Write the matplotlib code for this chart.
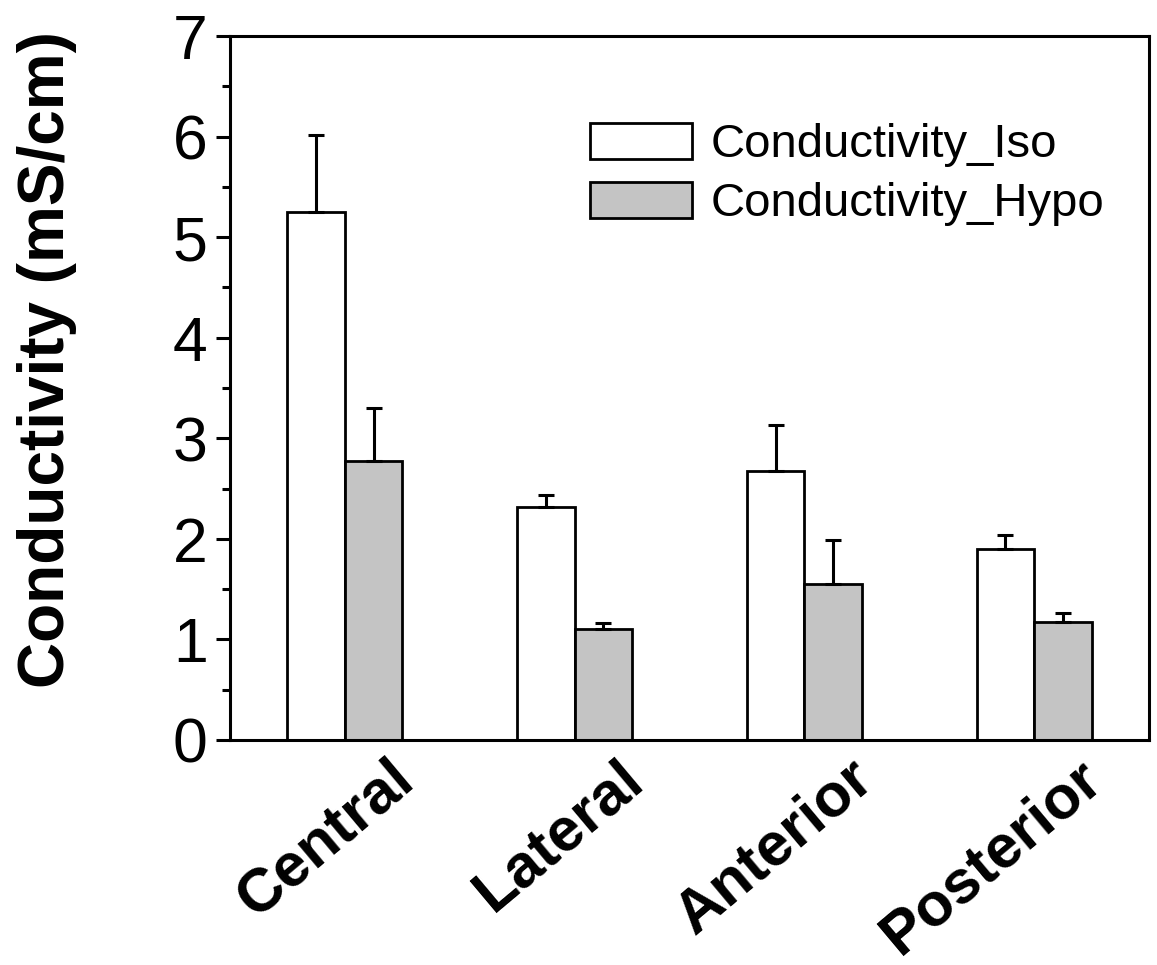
import matplotlib
matplotlib.use('Agg')
import matplotlib.pyplot as plt
import matplotlib.transforms as mtransforms
import numpy as np

#Data
categories = ['Central', 'Lateral', 'Anterior', 'Posterior']
iso = [5.25, 2.32, 2.67, 1.90]
iso_err = [0.77, 0.12, 0.46, 0.14]
hypo = [2.77, 1.10, 1.55, 1.17]
hypo_err = [0.53, 0.06, 0.44, 0.09]
yticks = [0, 1, 2, 3, 4, 5, 6, 7]

plt.rcParams['font.family'] = ['Liberation Sans', 'DejaVu Sans']

fig = plt.figure(figsize=(11.57, 9.65), dpi=100)
ax = fig.add_axes([0.1988, 0.2332, 0.7943, 0.7295])

x = np.arange(1, len(categories) + 1)
w = 0.25

#Bars with upper error bars only
ax.bar(x - w/2, iso, w, color='white', edgecolor='black', linewidth=2,
       label='Conductivity_Iso', zorder=2)
ax.bar(x + w/2, hypo, w, color='#c4c4c4', edgecolor='black', linewidth=2,
       label='Conductivity_Hypo', zorder=2)
ax.errorbar(x - w/2, iso, yerr=[np.zeros(len(iso)), iso_err], fmt='none',
            ecolor='black', elinewidth=2.2, capsize=5.8, capthick=2.2, zorder=3)
ax.errorbar(x + w/2, hypo, yerr=[np.zeros(len(hypo)), hypo_err], fmt='none',
            ecolor='black', elinewidth=2.2, capsize=5.8, capthick=2.2, zorder=3)

#Axes limits and ticks
ax.set_xlim(0.5, 4.5)
ax.set_ylim(0, 7)
ax.set_yticks(yticks)
ax.set_yticks(np.arange(0.5, 7, 1), minor=True)
ax.tick_params(axis='y', which='major', direction='out', length=10, width=2.2,
               labelsize=45, pad=6)
ax.tick_params(axis='y', which='minor', direction='out', length=5.8, width=2.2)
ax.set_xticks(x)
ax.set_xticklabels(categories, fontsize=44, fontweight='bold')
ax.tick_params(axis='x', length=0, pad=7)
plt.setp(ax.get_xticklabels(), rotation=40, ha='right', va='top', rotation_mode='anchor')
offset = mtransforms.ScaledTranslation(0.43, 0, fig.dpi_scale_trans)
for lab in ax.get_xticklabels():
    lab.set_transform(lab.get_transform() + offset)

for s in ax.spines.values():
    s.set_linewidth(2.2)

#Y axis label
ax.set_ylabel('Conductivity (mS/cm)', fontsize=46, fontweight='bold')
ax.yaxis.set_label_coords(-0.166, 0.54)

#Legend
ax.legend(loc='upper left', bbox_to_anchor=(0.392, 0.877), frameon=False,
          fontsize=34, handlelength=2.15, handleheight=0.82, handletextpad=0.4,
          labelspacing=0.3, borderpad=0, borderaxespad=0)

fig.savefig('out.png', dpi=100)
